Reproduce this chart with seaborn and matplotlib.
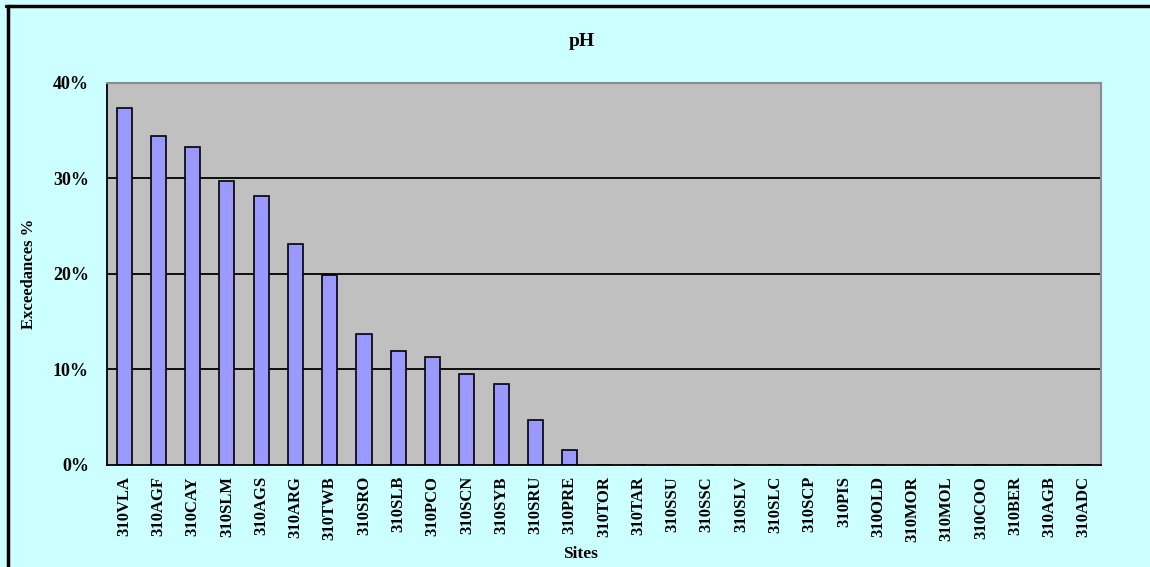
import numpy as np
import seaborn as sns
import matplotlib.pyplot as plt
from matplotlib.lines import Line2D
from matplotlib.ticker import PercentFormatter

sites = ["310VLA", "310AGF", "310CAY", "310SLM", "310AGS", "310ARG", "310TWB",
         "310SRO", "310SLB", "310PCO", "310SCN", "310SYB", "310SRU", "310PRE",
         "310TOR", "310TAR", "310SSU", "310SSC", "310SLV", "310SLC", "310SCP",
         "310PIS", "310OLD", "310MOR", "310MOL", "310COO", "310BER", "310AGB",
         "310ADC"]
exceedances = [37.4, 34.4, 33.3, 29.7, 28.1, 23.1, 19.9, 13.7, 11.9, 11.3,
               9.5, 8.5, 4.7, 1.6, 0, 0, 0, 0, 0, 0, 0, 0, 0, 0, 0, 0, 0, 0, 0]
yticks = [0, 0.1, 0.2, 0.3, 0.4]

sns.set_style("white")
plt.rcParams['font.family'] = ['Liberation Serif', 'DejaVu Serif']
plt.rcParams['font.weight'] = 'bold'
plt.rcParams['text.color'] = 'black'
plt.rcParams['axes.labelcolor'] = 'black'
plt.rcParams['xtick.color'] = 'black'
plt.rcParams['ytick.color'] = 'black'

fig = plt.figure(figsize=(11.5, 5.67), dpi=100)
fig.patch.set_facecolor('#CCFFFF')
ax = fig.add_axes([0.0930, 0.1799, 0.8643, 0.6742])
ax.set_facecolor('#C0C0C0')

ax.set_yticks(yticks)
ax.yaxis.grid(True, color='black', linewidth=1.3)
ax.set_axisbelow(True)

sns.barplot(x=sites, y=np.array(exceedances) / 100, color='#9999FF', saturation=1,
            edgecolor='black', linewidth=1.2, width=0.44, ax=ax)

ax.set_ylim(0, 0.4)
ax.set_xlim(-0.5, len(sites) - 0.5)
ax.yaxis.set_major_formatter(PercentFormatter(xmax=1, decimals=0))
gl = ax.get_ygridlines()
gl[0].set_visible(False)
gl[-1].set_visible(False)

for s in ['left', 'bottom']:
    ax.spines[s].set_color('black')
    ax.spines[s].set_linewidth(1.3)
for s in ['top', 'right']:
    ax.spines[s].set_color('#8C8C8C')
    ax.spines[s].set_linewidth(1.5)

ax.set_xticks(np.arange(-0.5, len(sites), 1), minor=True)
ax.tick_params(axis='x', which='minor', length=5, width=1.2, color='black', direction='out')
ax.tick_params(axis='x', which='major', length=0, pad=8)
ax.tick_params(axis='y', length=6, width=1.2, color='black', direction='out', pad=7,
               labelsize=13)
ax.set_xticks(range(len(sites)))
ax.set_xticklabels(sites, rotation=90, fontsize=12, fontweight='bold', va='top')
for lab in ax.get_yticklabels():
    lab.set_fontweight('bold')

ax.set_ylabel("Exceedances %", fontsize=12, fontweight='bold')
ax.yaxis.set_label_coords(-0.0704, 0.5)
ax.set_xlabel("Sites", fontsize=12.5, fontweight='bold')
ax.xaxis.set_label_coords(0.476, -0.212)

fig.text(0.506, 0.926, "pH", ha='center', va='center', fontsize=14, fontweight='bold')

# outer chart frame (only left and top visible)
fig.add_artist(Line2D([7.5 / 1150, 7.5 / 1150], [0, 1 - 6 / 567], transform=fig.transFigure,
                      color='black', linewidth=2.5))
fig.add_artist(Line2D([6 / 1150, 1], [1 - 6 / 567, 1 - 6 / 567], transform=fig.transFigure,
                      color='black', linewidth=2.5))

fig.savefig('out.png', dpi=100, facecolor=fig.get_facecolor())
